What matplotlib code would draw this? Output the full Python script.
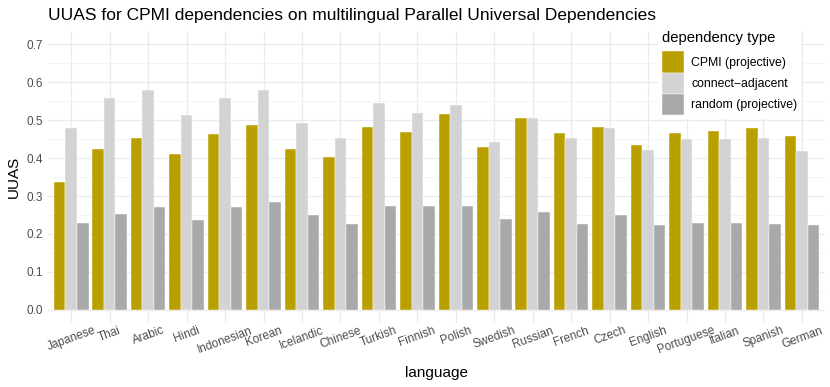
import numpy as np
import matplotlib
matplotlib.use("Agg")
from matplotlib import pyplot as plt
from matplotlib.ticker import MultipleLocator

plt.rcParams['font.family'] = ['Liberation Sans', 'DejaVu Sans']

languages = ["Japanese", "Thai", "Arabic", "Hindi", "Indonesian", "Korean",
             "Icelandic", "Chinese", "Turkish", "Finnish", "Polish", "Swedish",
             "Russian", "French", "Czech", "English", "Portuguese", "Italian",
             "Spanish", "German"]
cpmi = [0.337, 0.423, 0.453, 0.412, 0.464, 0.488, 0.424, 0.402, 0.482, 0.469,
        0.516, 0.429, 0.505, 0.466, 0.483, 0.434, 0.467, 0.471, 0.479, 0.458]
adjacent = [0.478, 0.558, 0.580, 0.514, 0.558, 0.580, 0.493, 0.453, 0.545, 0.518,
            0.541, 0.442, 0.506, 0.453, 0.480, 0.420, 0.449, 0.451, 0.454, 0.418]
random_proj = [0.228, 0.252, 0.271, 0.237, 0.270, 0.284, 0.251, 0.225, 0.274, 0.275,
               0.274, 0.240, 0.258, 0.226, 0.250, 0.224, 0.229, 0.228, 0.226, 0.224]
series_names = ["CPMI (projective)", "connect\u2212adjacent", "random (projective)"]
colors = ["#B9A000", "#D3D3D3", "#A9A9A9"]

fig = plt.figure(figsize=(8.3, 3.87), dpi=100)
ax = fig.add_axes([0.058, 0.165, 0.936, 0.755])

x = np.arange(1, len(languages) + 1)
w = 0.3
for i, (vals, name, col) in enumerate(zip([cpmi, adjacent, random_proj], series_names, colors)):
    ax.bar(x + (i - 1) * w, vals, width=w, color=col, label=name,
           edgecolor="white", linewidth=0.3, zorder=2)

ax.set_xlim(0.4, len(languages) + 0.6)
ax.set_ylim(-0.035, 0.735)
ax.yaxis.set_major_locator(MultipleLocator(0.1))
ax.yaxis.set_minor_locator(MultipleLocator(0.05))
ax.set_yticks(np.arange(0, 0.71, 0.1))
ax.set_yticklabels([f"{v:.1f}" for v in np.arange(0, 0.71, 0.1)])
ax.set_xticks(x)
ax.set_xticklabels(languages, rotation=20, ha="center")

ax.grid(which="major", color="#EBEBEB", linewidth=1.0, zorder=0)
ax.grid(which="minor", axis="y", color="#F3F3F3", linewidth=0.6, zorder=0)
ax.set_axisbelow(True)
for s in ax.spines.values():
    s.set_visible(False)
ax.tick_params(axis="both", which="both", length=0, labelsize=8.5, colors="#4D4D4D")
ax.tick_params(axis="x", pad=1)
ax.tick_params(axis="y", pad=4)

ax.set_xlabel("language", fontsize=11, labelpad=7)
ax.set_ylabel("UUAS", fontsize=11, labelpad=4)
ax.set_title("UUAS for CPMI dependencies on multilingual Parallel Universal Dependencies",
             fontsize=12.5, loc="left", x=0.0, pad=8)

leg = ax.legend(title="dependency type", loc="upper right", bbox_to_anchor=(0.977, 1.035),
                fontsize=8.8, title_fontsize=10.7, frameon=True, facecolor="white",
                edgecolor="none", framealpha=1.0, handlelength=1.8, handleheight=2.3,
                handletextpad=0.6, labelspacing=0.0, borderpad=0.3)
leg._legend_box.align = "left"
leg._legend_box.sep = 5

fig.savefig("out.png", dpi=100)
